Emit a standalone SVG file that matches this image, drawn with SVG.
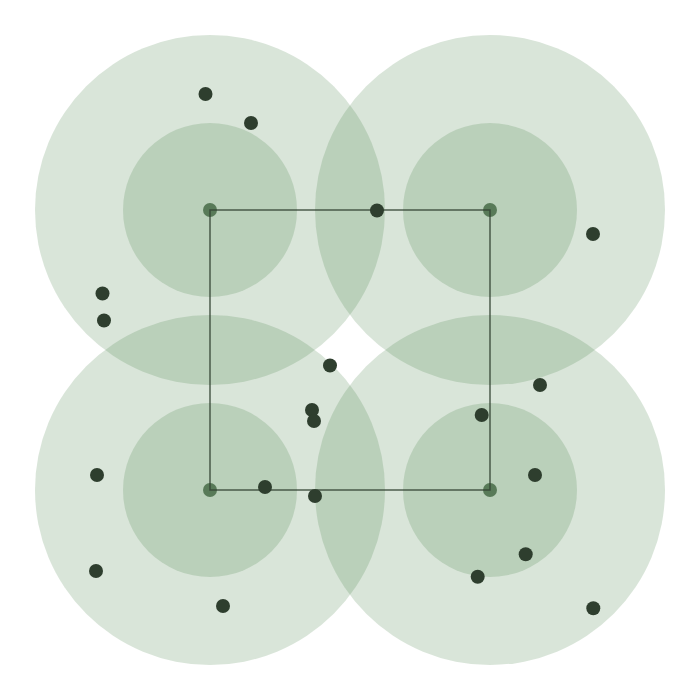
<svg xmlns="http://www.w3.org/2000/svg" width="700" height="700" viewBox="0 0 700 700">
<style>
.outer{fill:#417d41;fill-opacity:0.2}
.inner{fill:#417d41;fill-opacity:0.2}
.hub{fill:#587a58}
.pt{fill:#2e3e2e}
.edge{stroke:#344434;stroke-width:1.5;fill:none;stroke-opacity:0.85}
</style>
<rect width="700" height="700" fill="#ffffff"/>
<g id="zones">
<circle class="outer" cx="210" cy="210" r="175"/>
<circle class="outer" cx="490" cy="210" r="175"/>
<circle class="outer" cx="210" cy="490" r="175"/>
<circle class="outer" cx="490" cy="490" r="175"/>
<circle class="inner" cx="210" cy="210" r="87"/>
<circle class="inner" cx="490" cy="210" r="87"/>
<circle class="inner" cx="210" cy="490" r="87"/>
<circle class="inner" cx="490" cy="490" r="87"/>
</g>
<g id="hubs">
<circle id="hub-tl" class="hub" cx="210" cy="210" r="7"/>
<circle id="hub-tr" class="hub" cx="490" cy="210" r="7"/>
<circle id="hub-bl" class="hub" cx="210" cy="490" r="7"/>
<circle id="hub-br" class="hub" cx="490" cy="490" r="7"/>
</g>
<g id="connectors">
<path class="edge" d="M210,210 H490 V490 H210 Z"/>
</g>
<g id="points">
<circle class="pt" cx="205.5" cy="94" r="7"/>
<circle class="pt" cx="251" cy="123" r="7"/>
<circle class="pt" cx="377" cy="210.5" r="7"/>
<circle class="pt" cx="593" cy="234" r="7"/>
<circle class="pt" cx="102.5" cy="293.5" r="7"/>
<circle class="pt" cx="104" cy="320.5" r="7"/>
<circle class="pt" cx="330" cy="365.5" r="7"/>
<circle class="pt" cx="312" cy="410" r="7"/>
<circle class="pt" cx="314" cy="421" r="7"/>
<circle class="pt" cx="540" cy="385" r="7"/>
<circle class="pt" cx="481.7" cy="415" r="7"/>
<circle class="pt" cx="97" cy="475" r="7"/>
<circle class="pt" cx="265" cy="487" r="7"/>
<circle class="pt" cx="315" cy="496" r="7"/>
<circle class="pt" cx="535" cy="475" r="7"/>
<circle class="pt" cx="96" cy="571" r="7"/>
<circle class="pt" cx="223" cy="606" r="7"/>
<circle class="pt" cx="525.7" cy="554.3" r="7"/>
<circle class="pt" cx="477.7" cy="576.7" r="7"/>
<circle class="pt" cx="593.3" cy="608.3" r="7"/>
</g>
</svg>
